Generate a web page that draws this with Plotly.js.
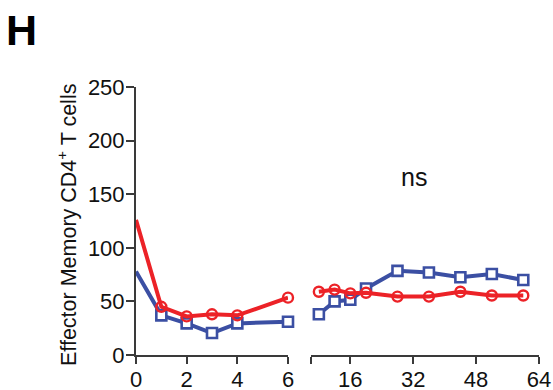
<!DOCTYPE html>
<html>
<head>
<meta charset="utf-8">
<script src="https://cdn.plot.ly/plotly-3.0.1.min.js"></script>
<style>html,body{margin:0;padding:0;background:#fff;}#chart{width:553px;height:390px;}</style>
</head>
<body>
<div id="chart"></div>
<script>
// Early phase (days 0-6)
const earlyX = [0, 1, 2, 3, 4, 6];
const earlyRed = [126, 45, 36, 38, 37, 53.5];
const earlyBlue = [78, 37, 29.5, 20.5, 29.5, 31];
// Late phase (days 8-60)
const lateX = [8, 12, 16, 20, 28, 36, 44, 52, 60];
const lateRed = [59, 61, 57.5, 58, 54.5, 54.5, 59, 55.5, 55.5];
const lateBlue = [38, 50, 51.5, 62, 78.5, 77, 72.5, 75.5, 70];
// Axis ticks
const yTicks = [0, 50, 100, 150, 200, 250];
const x1Ticks = [0, 2, 4, 6];
const x2Ticks = [16, 32, 48, 64];
const x2StartTick = [6];

const RED = '#ec2227';
const BLUE = '#3b4fa3';
const AX = '#3a3a3a';
const FONT = 'Liberation Sans, Arial, sans-serif';

function tr(x, y, xa, color, symbol, size, fill, lw) {
  return {
    x: x, y: y, xaxis: xa, yaxis: 'y', type: 'scatter', mode: 'lines+markers',
    cliponaxis: false,
    line: {color: color, width: 4},
    marker: {symbol: symbol, size: x.map(v => v === 0 ? 0 : size), color: fill, opacity: 1,
             line: {color: color, width: lw}},
    hoverinfo: 'skip', showlegend: false
  };
}

const data = [
  tr(earlyX, earlyBlue, 'x', BLUE, 'square', 10, '#ffffff', 2.6),
  tr(earlyX, earlyRed, 'x', RED, 'circle-open', 10, RED, 2.4),
  tr(lateX, lateBlue, 'x2', BLUE, 'square', 10, '#ffffff', 2.6),
  tr(lateX, lateRed, 'x2', RED, 'circle-open', 10, RED, 2.4)
];

const tickFont = {family: FONT, size: 22, color: '#111'};
const axisCommon = {
  showline: true, linecolor: AX, linewidth: 2, ticks: 'outside', ticklen: 7,
  tickwidth: 2, tickcolor: AX, showgrid: false, zeroline: false, tickfont: tickFont,
  fixedrange: true, ticklabelstandoff: -3
};

const layout = {
  width: 553, height: 390,
  margin: {l: 0, r: 0, t: 87, b: 35},
  paper_bgcolor: '#fff', plot_bgcolor: 'rgba(0,0,0,0)',
  font: {family: FONT, color: '#111'},
  xaxis: Object.assign({}, axisCommon, {domain: [136/553, 288/553], range: [0, 6],
    tickvals: x1Ticks, anchor: 'y'}),
  xaxis2: Object.assign({}, axisCommon, {domain: [311/553, 539/553], range: [6, 64],
    tickvals: x2Ticks, anchor: 'y',
    minor: {tickvals: x2StartTick, ticks: 'outside', ticklen: 7, tickwidth: 2, tickcolor: AX, showgrid: false}}),
  yaxis: Object.assign({}, axisCommon, {domain: [0, 1], range: [0, 250],
    tickvals: yTicks, anchor: 'x', ticklen: 8}),
  annotations: [
    {text: '<b>H</b>', xref: 'paper', yref: 'paper', x: 0.008, y: (355 - 30) / 268, xanchor: 'left', yanchor: 'middle',
     showarrow: false, font: {size: 43, family: FONT, color: '#000'}},
    {text: 'Effector Memory CD4<sup>+</sup> T cells', xref: 'paper', yref: 'paper',
     x: 67/553, y: 0.485, xanchor: 'center', yanchor: 'middle', textangle: -90, showarrow: false,
     font: {size: 21.5, family: FONT, color: '#111'}},
    {text: 'ns', xref: 'x2', yref: 'y', x: 32.2, y: 166, showarrow: false,
     font: {size: 25, family: FONT, color: '#111'}}
  ]
};

Plotly.newPlot('chart', data, layout, {staticPlot: true, displayModeBar: false});
</script>
</body>
</html>
